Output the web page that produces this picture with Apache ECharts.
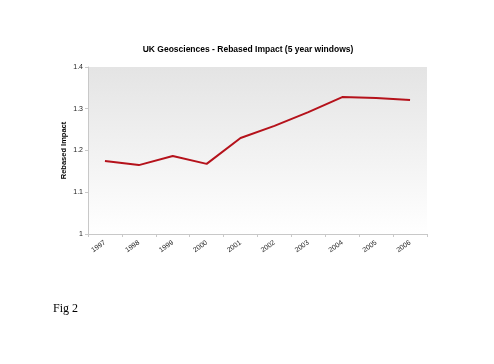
<!DOCTYPE html>
<html><head><meta charset="utf-8">
<script src="https://cdn.jsdelivr.net/npm/echarts@6/dist/echarts.min.js"></script>
<style>html,body{margin:0;padding:0;background:#fff}#c{width:494px;height:364px}</style>
</head><body><div id="c"></div>
<script>
var categories = ['1997','1998','1999','2000','2001','2002','2003','2004','2005','2006'];
var impactValues = [1.175, 1.165, 1.187, 1.168, 1.230, 1.259, 1.292, 1.328, 1.326, 1.321];
var yTicks = [1, 1.1, 1.2, 1.3, 1.4];

var chart = echarts.init(document.getElementById('c'), null, {renderer: 'canvas'});
chart.setOption({
  animation: false,
  backgroundColor: '#ffffff',
  title: {
    text: 'UK Geosciences - Rebased Impact (5 year windows)',
    left: 243, top: 40, textAlign: 'center',
    textStyle: {fontFamily: 'Liberation Sans, Arial', fontSize: 8.5, fontWeight: 'bold', color: '#000'}
  },
  graphic: [{
    type: 'text', left: 53, top: 303,
    style: {text: 'Fig 2', font: '12px "Liberation Serif", "Times New Roman", serif', fill: '#000'}
  }],
  grid: {
    left: 88, top: 67, width: 339, height: 167,
    show: true, borderWidth: 0,
    backgroundColor: new echarts.graphic.LinearGradient(0, 0, 0, 1, [
      {offset: 0, color: '#e4e4e4'}, {offset: 1, color: '#ffffff'}
    ])
  },
  xAxis: {
    type: 'category', data: categories, boundaryGap: true,
    axisLine: {show: true, lineStyle: {color: '#c8c8c8', width: 1}},
    axisTick: {show: true, length: 3, alignWithLabel: false, lineStyle: {color: '#c8c8c8'}},
    axisLabel: {rotate: 35, fontSize: 7, fontFamily: 'Liberation Sans, Arial', color: '#222', margin: 8, interval: 0}
  },
  yAxis: {
    type: 'value', min: 1, max: 1.4, interval: 0.1,
    name: 'Rebased Impact', nameLocation: 'middle', nameGap: 20, nameMoveOverlap: false,
    nameTextStyle: {fontFamily: 'Liberation Sans, Arial', fontSize: 7.5, fontWeight: 'bold', color: '#000'},
    axisLine: {show: true, lineStyle: {color: '#c8c8c8', width: 1}},
    axisTick: {show: true, length: 3, lineStyle: {color: '#c8c8c8'}},
    splitLine: {show: false},
    axisLabel: {fontSize: 7, fontFamily: 'Liberation Sans, Arial', color: '#222', margin: 5,
      formatter: function (v) { var r = Math.round(v * 10) / 10; return yTicks.indexOf(r) >= 0 ? String(r) : ''; }}
  },
  series: [{
    type: 'line', data: impactValues, symbol: 'none',
    lineStyle: {color: '#b5121b', width: 2}
  }]
});
</script></body></html>
